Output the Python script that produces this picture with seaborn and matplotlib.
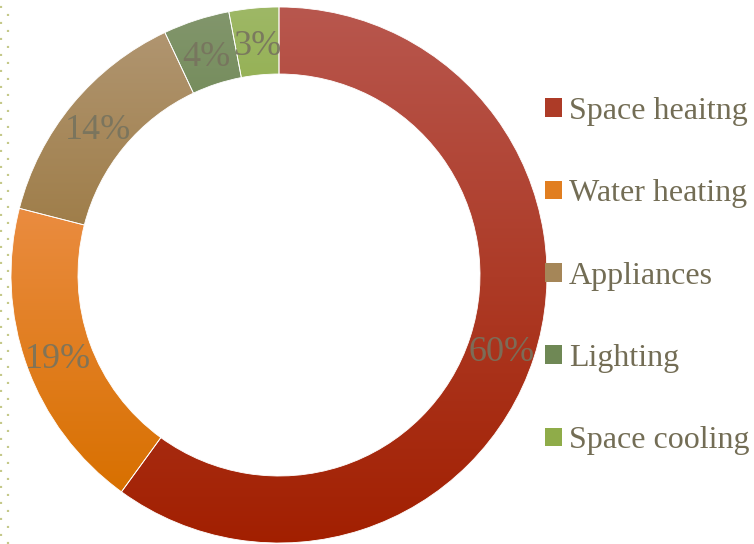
import numpy as np
import matplotlib
matplotlib.use("Agg")
import matplotlib.pyplot as plt
import seaborn as sns
from matplotlib.patches import Patch
from matplotlib.lines import Line2D
from matplotlib.colors import LinearSegmentedColormap
from matplotlib import font_manager

sns.set_style("white")
serif = "Liberation Serif"
names = {f.name for f in font_manager.fontManager.ttflist}
if serif not in names:
    serif = "DejaVu Serif"
plt.rcParams["font.family"] = "serif"
plt.rcParams["font.serif"] = [serif, "DejaVu Serif"]
plt.rcParams["lines.scale_dashes"] = False

categories = ["Space heaitng", "Water heating", "Appliances", "Lighting", "Space cooling"]
shares = [60, 19, 14, 4, 3]
# (top, bottom) colour of each wedge's vertical gradient
top_colors = ["#B8574E", "#EA8C40", "#B09570", "#82966C", "#9EB866"]
bottom_colors = ["#A21F00", "#D87000", "#9B7840", "#5D7A3E", "#80A02C"]

fig = plt.figure(figsize=(7.54, 5.44), dpi=100)
ax = fig.add_axes([11 / 754, 1 / 544, 536 / 754, 536 / 544])

r_out = 1.0
width = 0.25
wedges, texts, autotexts = ax.pie(
    shares,
    startangle=90,
    counterclock=False,
    radius=r_out,
    colors=bottom_colors,
    wedgeprops=dict(width=width, edgecolor="white", linewidth=0.6),
    autopct=lambda p: f"{p:.0f}%",
    pctdistance=(r_out - width / 2) / r_out,
    textprops=dict(fontsize=26, color="#77735E", family=serif),
)

# vertical gradient fill clipped to each wedge
for w, c_top, c_bot in zip(wedges, top_colors, bottom_colors):
    verts = w.get_path().vertices
    x0, y0 = verts.min(axis=0)
    x1, y1 = verts.max(axis=0)
    cmap = LinearSegmentedColormap.from_list("g", [c_bot, c_top])
    grad = np.linspace(0, 1, 256).reshape(-1, 1)
    im = ax.imshow(grad, cmap=cmap, extent=(x0, x1, y0, y1), origin="lower",
                   aspect="auto", zorder=w.get_zorder() + 0.1, interpolation="bilinear")
    im.set_clip_path(w)
    w.set_facecolor("none")
    w.set_zorder(w.get_zorder() + 0.2)

for t in autotexts:
    x, y = t.get_position()
    t.set_position((x, y - 0.02))
    t.set_zorder(5)
    t.set_alpha(0.9)

ax.set_xlim(-1, 1)
ax.set_ylim(-1, 1)
ax.set_aspect("auto")
ax.axis("off")

handles = [Patch(facecolor=sns.blend_palette([t, b], 3)[1], edgecolor="none")
           for t, b in zip(top_colors, bottom_colors)]
fig.legend(handles, categories, loc="upper left", bbox_to_anchor=(545 / 754, 1 - 97 / 544),
           frameon=False, prop=dict(family=serif, size=23), labelcolor="#736D55",
           handlelength=0.52, handleheight=0.52, handletextpad=0.22,
           labelspacing=1.67, borderpad=0, borderaxespad=0)

# dotted rule along the left edge
for x, off in [(7.5, 0), (0.8, 5.76)]:
    fig.add_artist(Line2D([x / 754, x / 754], [0, 1], transform=fig.transFigure,
                          color="#C5C98A", linewidth=1.6,
                          linestyle=(off, (1.5, 10.02))))

fig.savefig("out.png", dpi=100)
